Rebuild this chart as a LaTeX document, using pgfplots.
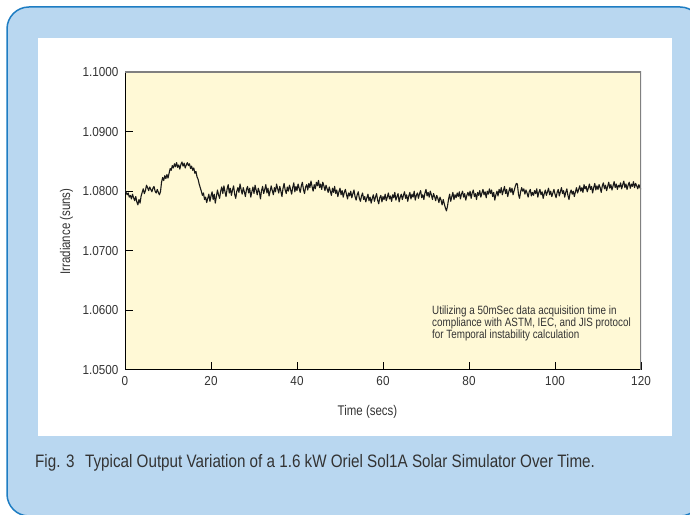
\documentclass[border=0pt]{standalone}
\usepackage{pgfplots}
\pgfplotsset{compat=1.18}
\usepackage{fontspec}
\setmainfont{Liberation Sans}
\newfontfamily\cond[FakeStretch=0.82]{Liberation Sans}
\newfontfamily\capf[FakeStretch=0.845]{Liberation Sans}
\newfontfamily\tickf[FakeStretch=0.9]{Liberation Sans}
\definecolor{bluefill}{RGB}{185,215,240}
\definecolor{blueedge}{RGB}{30,125,195}
\definecolor{plotbg}{RGB}{255,249,214}
\definecolor{txt}{RGB}{51,51,51}
\definecolor{framegray}{RGB}{128,128,128}
\begin{document}
\begin{tikzpicture}[x=1pt,y=1pt]
\useasboundingbox (0,0) rectangle (690,514);
\fill[white] (0,0) rectangle (690,514);
\begin{scope}
\clip (0,0) rectangle (690,514);
\draw[blueedge, line width=1.5pt, fill=bluefill, rounded corners=22pt] (7,-2) rectangle (702,507);
\end{scope}
\fill[white] (38,78) rectangle (672,476);
\begin{axis}[
  at={(125pt,144pt)}, anchor=south west,
  scale only axis, width=516pt, height=298pt,
  xmin=0, xmax=120, ymin=1.05, ymax=1.1,
  axis lines=left,
  axis line style={-, black, line width=1pt},
  axis background/.style={fill=plotbg},
  tick align=inside,
  major tick length=8pt,
  tick style={black, line width=1pt},
  xtick={0,20,40,60,80,100,120},
  xticklabels={0,20,40,60,80,100,120},
  ytick={1.05,1.06,1.07,1.08,1.09,1.1},
  yticklabels={1.0500,1.0600,1.0700,1.0800,1.0900,1.1000},
  ticklabel style={font=\tickf\fontsize{13}{13}\selectfont, text=txt},
  xticklabel style={yshift=-3pt},
  yticklabel style={xshift=-3pt},
  clip=true,
]
\addplot[color=black!90, line width=1.1pt, line join=round, mark=none] coordinates {
(0,1.0803) (0.25,1.0798) (0.5,1.0794) (0.75,1.0797) (1,1.0790) (1.25,1.0793) (1.5,1.0787) (1.75,1.0795) (2,1.0789) (2.25,1.0784)
(2.5,1.0791) (2.75,1.0782) (3,1.0777) (3.25,1.0786) (3.5,1.0780) (3.75,1.0792) (4,1.0798) (4.25,1.0804) (4.5,1.0796) (4.75,1.0801)
(5,1.0810) (5.25,1.0806) (5.5,1.0801) (5.75,1.0807) (6,1.0803) (6.25,1.0799) (6.5,1.0805) (6.75,1.0808) (7,1.0800) (7.25,1.0797)
(7.5,1.0803) (7.75,1.0798) (8,1.0794) (8.25,1.0799) (8.5,1.0815) (8.75,1.0823) (9,1.0818) (9.25,1.0826) (9.5,1.0821) (9.75,1.0828)
(10,1.0822) (10.25,1.0830) (10.5,1.0838) (10.75,1.0835) (11,1.0843) (11.25,1.0839) (11.5,1.0846) (11.75,1.0841) (12,1.0848) (12.25,1.0840)
(12.5,1.0844) (12.75,1.0837) (13,1.0845) (13.25,1.0849) (13.5,1.0842) (13.75,1.0847) (14,1.0839) (14.25,1.0844) (14.5,1.0848) (14.75,1.0843)
(15,1.0846) (15.25,1.0838) (15.5,1.0842) (15.75,1.0835) (16,1.0839) (16.25,1.0830) (16.5,1.0833) (16.75,1.0824) (17,1.0820) (17.25,1.0812)
(17.5,1.0806) (17.75,1.0800) (18,1.0793) (18.25,1.0797) (18.5,1.0786) (18.75,1.0790) (19,1.0781) (19.25,1.0788) (19.5,1.0795) (19.75,1.0783)
(20,1.0792) (20.25,1.0799) (20.5,1.0786) (20.75,1.0795) (21,1.0780) (21.25,1.0791) (21.5,1.0802) (21.75,1.0794) (22,1.0788) (22.25,1.0800)
(22.5,1.0807) (22.75,1.0796) (23,1.0809) (23.25,1.0799) (23.5,1.0791) (23.75,1.0804) (24,1.0811) (24.25,1.0797) (24.5,1.0805) (24.75,1.0793)
(25,1.0802) (25.25,1.0809) (25.5,1.0795) (25.75,1.0788) (26,1.0800) (26.25,1.0806) (26.5,1.0798) (26.75,1.0812) (27,1.0803) (27.25,1.0795)
(27.5,1.0806) (27.75,1.0799) (28,1.0791) (28.25,1.0803) (28.5,1.0808) (28.75,1.0797) (29,1.0805) (29.25,1.0790) (29.5,1.0799) (29.75,1.0807)
(30,1.0796) (30.25,1.0810) (30.5,1.0802) (30.75,1.0794) (31,1.0805) (31.25,1.0799) (31.5,1.0787) (31.75,1.0801) (32,1.0808) (32.25,1.0796)
(32.5,1.0803) (32.75,1.0811) (33,1.0797) (33.25,1.0805) (33.5,1.0792) (33.75,1.0800) (34,1.0809) (34.25,1.0801) (34.5,1.0794) (34.75,1.0806)
(35,1.0799) (35.25,1.0812) (35.5,1.0804) (35.75,1.0797) (36,1.0808) (36.25,1.0800) (36.5,1.0791) (36.75,1.0805) (37,1.0813) (37.25,1.0802)
(37.5,1.0796) (37.75,1.0807) (38,1.0800) (38.25,1.0810) (38.5,1.0803) (38.75,1.0795) (39,1.0806) (39.25,1.0814) (39.5,1.0799) (39.75,1.0808)
(40,1.0801) (40.25,1.0812) (40.5,1.0805) (40.75,1.0798) (41,1.0809) (41.25,1.0815) (41.5,1.0803) (41.75,1.0796) (42,1.0807) (42.25,1.0811)
(42.5,1.0802) (42.75,1.0813) (43,1.0806) (43.25,1.0817) (43.5,1.0808) (43.75,1.0800) (44,1.0811) (44.25,1.0804) (44.5,1.0815) (44.75,1.0809)
(45,1.0818) (45.25,1.0806) (45.5,1.0812) (45.75,1.0803) (46,1.0815) (46.25,1.0809) (46.5,1.0801) (46.75,1.0810) (47,1.0804) (47.25,1.0798)
(47.5,1.0807) (47.75,1.0800) (48,1.0793) (48.25,1.0805) (48.5,1.0798) (48.75,1.0808) (49,1.0796) (49.25,1.0802) (49.5,1.0791) (49.75,1.0799)
(50,1.0805) (50.25,1.0794) (50.5,1.0801) (50.75,1.0790) (51,1.0798) (51.25,1.0803) (51.5,1.0795) (51.75,1.0787) (52,1.0797) (52.25,1.0792)
(52.5,1.0800) (52.75,1.0789) (53,1.0796) (53.25,1.0802) (53.5,1.0791) (53.75,1.0785) (54,1.0794) (54.25,1.0799) (54.5,1.0788) (54.75,1.0783)
(55,1.0792) (55.25,1.0797) (55.5,1.0786) (55.75,1.0791) (56,1.0782) (56.25,1.0789) (56.5,1.0795) (56.75,1.0784) (57,1.0790) (57.25,1.0780)
(57.5,1.0788) (57.75,1.0794) (58,1.0783) (58.25,1.0790) (58.5,1.0796) (58.75,1.0785) (59,1.0779) (59.25,1.0789) (59.5,1.0793) (59.75,1.0782)
(60,1.0791) (60.25,1.0786) (60.5,1.0795) (60.75,1.0784) (61,1.0790) (61.25,1.0797) (61.5,1.0787) (61.75,1.0792) (62,1.0783) (62.25,1.0794)
(62.5,1.0789) (62.75,1.0798) (63,1.0785) (63.25,1.0791) (63.5,1.0796) (63.75,1.0782) (64,1.0790) (64.25,1.0795) (64.5,1.0786) (64.75,1.0793)
(65,1.0799) (65.25,1.0788) (65.5,1.0794) (65.75,1.0783) (66,1.0792) (66.25,1.0798) (66.5,1.0787) (66.75,1.0795) (67,1.0790) (67.25,1.0800)
(67.5,1.0785) (67.75,1.0793) (68,1.0797) (68.25,1.0788) (68.5,1.0796) (68.75,1.0801) (69,1.0789) (69.25,1.0794) (69.5,1.0786) (69.75,1.0797)
(70,1.0803) (70.25,1.0792) (70.5,1.0798) (70.75,1.0790) (71,1.0800) (71.25,1.0794) (71.5,1.0786) (71.75,1.0796) (72,1.0791) (72.25,1.0784)
(72.5,1.0793) (72.75,1.0788) (73,1.0781) (73.25,1.0790) (73.5,1.0785) (73.75,1.0777) (74,1.0786) (74.25,1.0779) (74.5,1.0772) (74.75,1.0767)
(75,1.0775) (75.25,1.0787) (75.5,1.0795) (75.75,1.0783) (76,1.0791) (76.25,1.0798) (76.5,1.0786) (76.75,1.0794) (77,1.0789) (77.25,1.0797)
(77.5,1.0791) (77.75,1.0799) (78,1.0787) (78.25,1.0795) (78.5,1.0800) (78.75,1.0790) (79,1.0796) (79.25,1.0785) (79.5,1.0793) (79.75,1.0798)
(80,1.0792) (80.25,1.0800) (80.5,1.0788) (80.75,1.0797) (81,1.0802) (81.25,1.0791) (81.5,1.0796) (81.75,1.0786) (82,1.0798) (82.25,1.0793)
(82.5,1.0801) (82.75,1.0790) (83,1.0797) (83.25,1.0803) (83.5,1.0794) (83.75,1.0799) (84,1.0789) (84.25,1.0800) (84.5,1.0795) (84.75,1.0804)
(85,1.0796) (85.25,1.0802) (85.5,1.0791) (85.75,1.0798) (86,1.0785) (86.25,1.0794) (86.5,1.0800) (86.75,1.0792) (87,1.0803) (87.25,1.0797)
(87.5,1.0806) (87.75,1.0794) (88,1.0801) (88.25,1.0808) (88.5,1.0796) (88.75,1.0803) (89,1.0791) (89.25,1.0799) (89.5,1.0806) (89.75,1.0798)
(90,1.0805) (90.25,1.0794) (90.5,1.0801) (90.75,1.0808) (91,1.0813) (91.25,1.0812) (91.5,1.0795) (91.75,1.0788) (92,1.0799) (92.25,1.0806)
(92.5,1.0800) (92.75,1.0804) (93,1.0795) (93.25,1.0802) (93.5,1.0797) (93.75,1.0790) (94,1.0799) (94.25,1.0803) (94.5,1.0792) (94.75,1.0798)
(95,1.0793) (95.25,1.0801) (95.5,1.0796) (95.75,1.0804) (96,1.0790) (96.25,1.0798) (96.5,1.0803) (96.75,1.0794) (97,1.0799) (97.25,1.0788)
(97.5,1.0796) (97.75,1.0802) (98,1.0793) (98.25,1.0799) (98.5,1.0805) (98.75,1.0794) (99,1.0800) (99.25,1.0791) (99.5,1.0797) (99.75,1.0803)
(100,1.0795) (100.25,1.0789) (100.5,1.0798) (100.75,1.0803) (101,1.0792) (101.25,1.0799) (101.5,1.0806) (101.75,1.0796) (102,1.0801) (102.25,1.0790)
(102.5,1.0798) (102.75,1.0804) (103,1.0793) (103.25,1.0786) (103.5,1.0797) (103.75,1.0802) (104,1.0795) (104.25,1.0800) (104.5,1.0791) (104.75,1.0799)
(105,1.0806) (105.25,1.0797) (105.5,1.0803) (105.75,1.0809) (106,1.0800) (106.25,1.0806) (106.5,1.0798) (106.75,1.0811) (107,1.0804) (107.25,1.0808)
(107.5,1.0799) (107.75,1.0805) (108,1.0812) (108.25,1.0803) (108.5,1.0808) (108.75,1.0797) (109,1.0806) (109.25,1.0813) (109.5,1.0802) (109.75,1.0809)
(110,1.0803) (110.25,1.0811) (110.5,1.0806) (110.75,1.0798) (111,1.0809) (111.25,1.0814) (111.5,1.0804) (111.75,1.0810) (112,1.0801) (112.25,1.0808)
(112.5,1.0815) (112.75,1.0805) (113,1.0811) (113.25,1.0802) (113.5,1.0809) (113.75,1.0816) (114,1.0806) (114.25,1.0812) (114.5,1.0803) (114.75,1.0810)
(115,1.0807) (115.25,1.0814) (115.5,1.0804) (115.75,1.0811) (116,1.0817) (116.25,1.0806) (116.5,1.0812) (116.75,1.0803) (117,1.0810) (117.25,1.0815)
(117.5,1.0805) (117.75,1.0812) (118,1.0808) (118.25,1.0816) (118.5,1.0806) (118.75,1.0813) (119,1.0809) (119.25,1.0804) (119.5,1.0811) (119.75,1.0806)
(120,1.0803)
};
\draw[framegray, line width=1.6pt] (rel axis cs:0,1) -- (rel axis cs:1,1) -- (rel axis cs:1,0);
\end{axis}
\node[anchor=base, text=txt, font=\cond\fontsize{14}{14}\selectfont] at (367.5,99) {Time (secs)};
\node[anchor=base, rotate=90, text=txt, font=\cond\fontsize{14}{14}\selectfont] at (70,282.5) {Irradiance (suns)};
\node[anchor=base west, inner sep=0pt, text=txt, font=\cond\fontsize{12}{12}\selectfont] at (432,199.7) {Utilizing a 50mSec data acquisition time in};
\node[anchor=base west, inner sep=0pt, text=txt, font=\cond\fontsize{12}{12}\selectfont] at (432,187.7) {compliance with ASTM, IEC, and JIS protocol};
\node[anchor=base west, inner sep=0pt, text=txt, font=\cond\fontsize{12}{12}\selectfont] at (432,175.7) {for Temporal instability calculation};
\node[anchor=base west, inner sep=0pt, text=txt, font=\capf\fontsize{18}{18}\selectfont] at (35,46.7) {Fig. 3\hspace{0.35em} Typical Output Variation of a 1.6 kW Oriel Sol1A Solar Simulator Over Time.};
\end{tikzpicture}
\end{document}
